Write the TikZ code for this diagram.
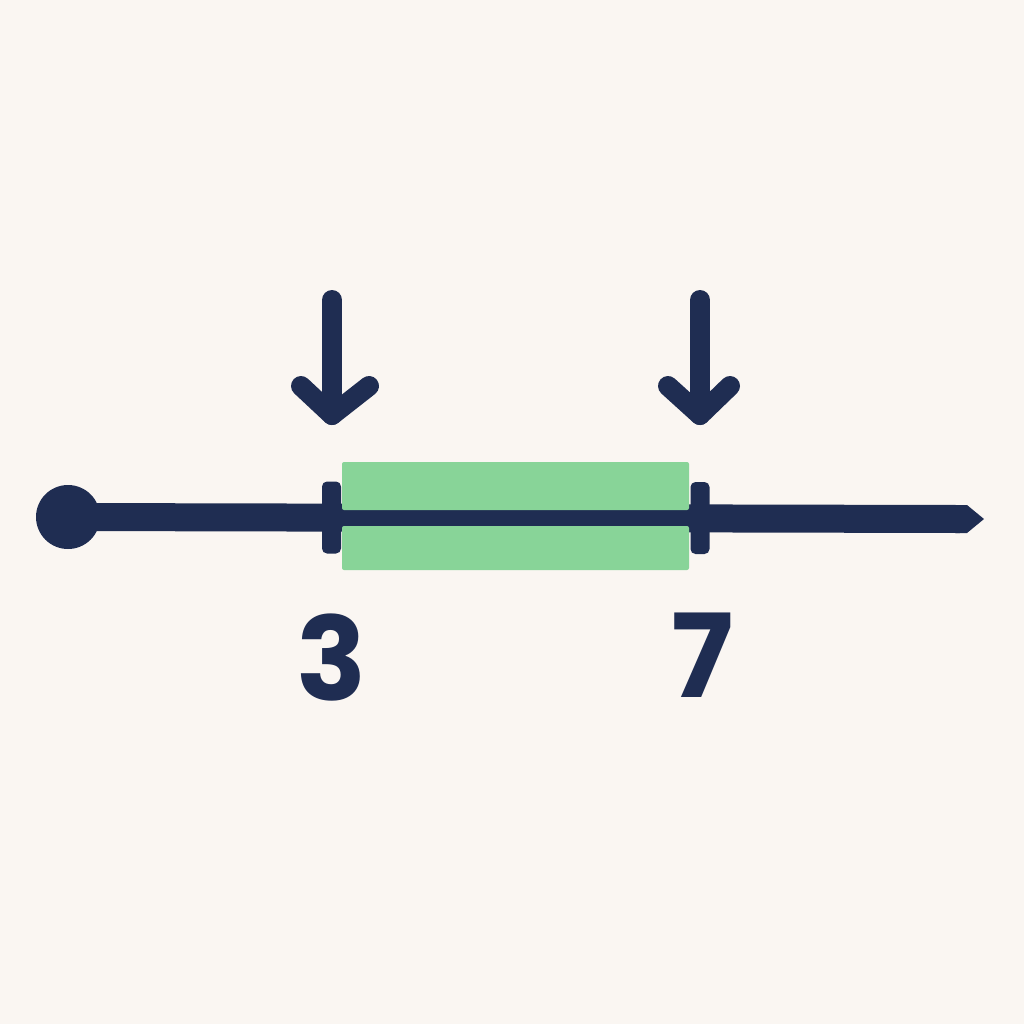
\documentclass[tikz,border=0pt]{standalone}
\usepackage{fontspec}
\setmainfont{Poppins}
\definecolor{navy}{HTML}{1F2D52}
\definecolor{mint}{HTML}{88D498}
\definecolor{paper}{HTML}{FAF6F2}
\begin{document}
\begin{tikzpicture}[x=0.5pt,y=-0.5pt,
  mainline/.style={draw=navy,line width=14pt},
  tickbox/.style={rectangle,fill=navy,rounded corners=2.5pt,minimum width=9.5pt,minimum height=36pt,inner sep=0pt},
  band/.style={fill=mint,rounded corners=1pt},
  downarrow/.style={draw=navy,line width=10pt,line cap=round,line join=round},
  numlabel/.style={text=navy,font=\fontsize{58}{60}\selectfont\bfseries,inner sep=0pt}]
\fill[paper] (0,0) rectangle (1024,1024);
\useasboundingbox (0,0) rectangle (1024,1024);
% main line
\node[circle,fill=navy,minimum size=32pt,inner sep=0pt] (dot) at (68,517) {};
\coordinate (lineend) at (960,519);
\draw[mainline] (dot.center) -- (lineend);
\fill[navy] (955,505) -- (967,505) -- (984,519) -- (967,533) -- (955,533) -- cycle;
% green bands
\fill[band] (342,462) rectangle (689,510);
\fill[band] (342,526) rectangle (689,570);
% ticks
\node[tickbox] (t3) at (331.5,517.5) {};
\node[tickbox] (t7) at (700,518) {};
% arrows
\coordinate (a3top) at (332,300);
\coordinate (a3tip) at (332,415);
\coordinate (a3l) at (301,386);
\coordinate (a3r) at (369,386);
\draw[downarrow] (a3top) -- (a3tip);
\draw[downarrow] (a3l) -- (a3tip) -- (a3r);
\coordinate (a7top) at (700,300);
\coordinate (a7tip) at (700,415);
\coordinate (a7l) at (668,386);
\coordinate (a7r) at (730,386);
\draw[downarrow] (a7top) -- (a7tip);
\draw[downarrow] (a7l) -- (a7tip) -- (a7r);
% labels
\node[numlabel] (n3) at (332,658) {3};
\node[numlabel] (n7) at (703,655) {7};
\end{tikzpicture}
\end{document}
